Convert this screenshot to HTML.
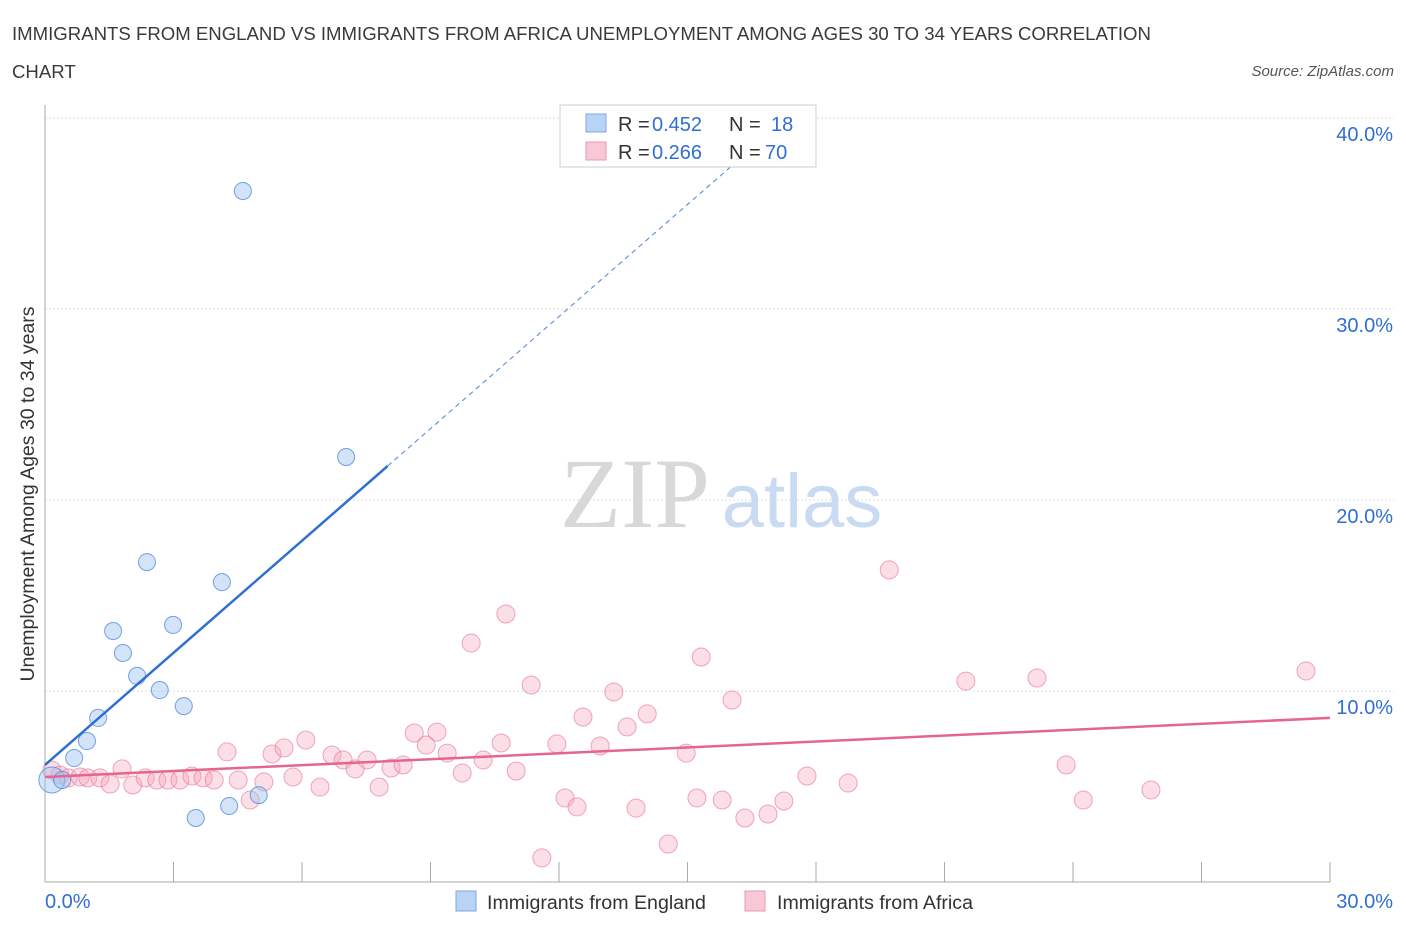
<!DOCTYPE html>
<html><head><meta charset="utf-8"><style>
body{margin:0;background:#fff;font-family:"Liberation Sans",sans-serif}
</style></head><body>
<svg id="chart" width="1406" height="930" xmlns="http://www.w3.org/2000/svg" font-family="Liberation Sans, sans-serif">
<text x="12" y="40" font-size="18.6" fill="#3a3a3a">IMMIGRANTS FROM ENGLAND VS IMMIGRANTS FROM AFRICA UNEMPLOYMENT AMONG AGES 30 TO 34 YEARS CORRELATION</text>
<text x="12" y="78" font-size="18.6" fill="#3a3a3a">CHART</text>
<text x="1394" y="76" font-size="15" fill="#555" text-anchor="end" font-style="italic">Source: ZipAtlas.com</text>
<g id="grid"></g>
<g>
<text x="635" y="527" font-size="100" fill="#d8d8d8" text-anchor="middle" style="font-family:'Liberation Serif',serif">ZIP</text>
<text x="802" y="527" font-size="76" fill="#c8dbf2" text-anchor="middle">atlas</text>
</g>
<g id="axes"></g>
<g id="marks"></g>
<text transform="translate(34,494) rotate(-90)" font-size="19.5" fill="#333" text-anchor="middle">Unemployment Among Ages 30 to 34 years</text>
<g>
<rect x="560" y="105" width="256" height="62" fill="#fff" stroke="#ccc"/>
<rect x="586" y="114" width="20" height="18" fill="#b8d3f5" stroke="#7ba7e0"/>
<rect x="586" y="142" width="20" height="18" fill="#f9c8d6" stroke="#e89ab2"/>
<text x="618" y="131" font-size="20" fill="#333">R =</text>
<text x="652" y="131" font-size="20" fill="#2f6fd1">0.452</text>
<text x="729" y="131" font-size="20" fill="#333">N =</text>
<text x="771" y="131" font-size="20" fill="#2f6fd1">18</text>
<text x="618" y="159" font-size="20" fill="#333">R =</text>
<text x="652" y="159" font-size="20" fill="#2f6fd1">0.266</text>
<text x="729" y="159" font-size="20" fill="#333">N =</text>
<text x="765" y="159" font-size="20" fill="#2f6fd1">70</text>
</g>
<g>
<rect x="456" y="891" width="20" height="20" fill="#b8d3f5" stroke="#7ba7e0"/>
<text x="487" y="909" font-size="19.6" fill="#333">Immigrants from England</text>
<rect x="745" y="891" width="20" height="20" fill="#f9c8d6" stroke="#e89ab2"/>
<text x="777" y="909" font-size="19.6" fill="#333">Immigrants from Africa</text>
</g>
</svg>
<script>
const engX=[0.16,0.40,0.68,0.98,1.24,1.59,1.82,2.15,2.38,2.68,2.99,3.24,3.52,4.13,4.30,4.62,4.99,7.03];
const engY=[5.34,5.34,6.49,7.38,8.59,13.14,11.99,10.79,16.75,10.05,13.46,9.21,3.35,15.7,3.98,36.18,4.55,22.25];
const afrX=[0.16,0.35,0.54,0.82,1.00,1.28,1.52,1.80,2.05,2.34,2.61,2.87,3.15,3.43,3.69,3.95,4.25,4.51,4.79,5.11,5.30,5.58,5.79,6.09,6.42,6.70,6.96,7.24,7.52,7.80,8.08,8.36,8.62,8.90,9.15,9.39,9.74,9.95,10.23,10.65,10.76,11.00,11.35,11.60,11.95,12.14,12.42,12.56,12.96,13.28,13.59,13.80,14.06,14.55,14.97,15.22,15.32,15.81,16.04,16.34,16.88,17.25,17.79,18.75,19.71,21.50,23.16,23.84,24.24,25.82,29.44];
const afrY=[5.86,5.60,5.45,5.50,5.45,5.45,5.13,5.92,5.08,5.45,5.34,5.34,5.34,5.55,5.45,5.34,6.81,5.34,4.29,5.24,6.70,7.02,5.50,7.43,4.97,6.65,6.39,5.92,6.39,4.97,5.97,6.13,7.80,7.17,7.85,6.75,5.71,12.51,6.39,7.28,14.03,5.81,10.31,1.26,7.23,4.40,3.93,8.64,7.12,9.95,8.12,3.87,8.80,1.99,6.75,4.40,11.78,4.29,9.53,3.35,3.56,4.24,5.55,5.18,16.34,10.52,10.68,6.13,4.29,4.82,11.05];
const engTrend=[0,6.13,8.0,21.78];
const afrTrend=[0,5.5,30,8.59];
const yTicks=[10,20,30,40];
const yTickLabels=["10.0%","20.0%","30.0%","40.0%"];
const xTicks=[0,3,6,9,12,15,18,21,24,27,30];
const NS="http://www.w3.org/2000/svg";
const X=v=>45+v*1285/30, Y=v=>882-v*19.1;
function mk(t,a,p){const e=document.createElementNS(NS,t);for(const k in a)e.setAttribute(k,a[k]);p.appendChild(e);return e;}
const grid=document.getElementById('grid'),axes=document.getElementById('axes'),marks=document.getElementById('marks');
yTicks.forEach((v,i)=>{
 const l=mk('line',{x1:45,x2:1394,y1:Y(v),y2:Y(v),stroke:'#ddd','stroke-dasharray':'2,2'},grid);
 
 
 const t=mk('text',{x:1393,y:Y(v)+23,'font-size':20,fill:'#2f6fd1','text-anchor':'end'},axes);
 t.textContent=yTickLabels[i];
 
 
});
mk('line',{x1:45,x2:45,y1:105,y2:882,stroke:'#aaa'},axes);
mk('line',{x1:45,x2:1330,y1:882,y2:882,stroke:'#aaa'},axes);
xTicks.forEach(v=>{const l=mk('line',{x1:X(v),x2:X(v),y1:862,y2:882,stroke:'#aaa'},axes);
 
 });
let t=mk('text',{x:45,y:908,'font-size':20,fill:'#2f6fd1'},axes);t.textContent='0.0%';


t=mk('text',{x:1393,y:908,'font-size':20,fill:'#2f6fd1','text-anchor':'end'},axes);t.textContent='30.0%';


afrX.forEach((v,i)=>{const c=mk('circle',{cx:X(v),cy:Y(afrY[i]),r:9,fill:'rgba(245,160,185,0.35)',stroke:'rgba(232,130,160,0.7)','stroke-width':1},marks);
 
 });
engX.forEach((v,i)=>{const c=mk('circle',{cx:X(v),cy:Y(engY[i]),r:i==0?13:8.5,fill:'rgba(160,195,240,0.45)',stroke:'rgba(80,140,220,0.8)','stroke-width':1},marks);
 
 });
const slope=(engTrend[3]-engTrend[1])/(engTrend[2]-engTrend[0]);
let l=mk('line',{x1:X(engTrend[2]),y1:Y(engTrend[3]),x2:X(17),y2:Y(engTrend[1]+slope*17),stroke:'#4a85d6','stroke-width':1,'stroke-dasharray':'5,4'},marks);


l=mk('line',{x1:X(engTrend[0]),y1:Y(engTrend[1]),x2:X(engTrend[2]),y2:Y(engTrend[3]),stroke:'#2f6fd1','stroke-width':2.5},marks);


l=mk('line',{x1:X(afrTrend[0]),y1:Y(afrTrend[1]),x2:X(afrTrend[2]),y2:Y(afrTrend[3]),stroke:'#e4668f','stroke-width':2.5},marks);


</script>
</body></html>
